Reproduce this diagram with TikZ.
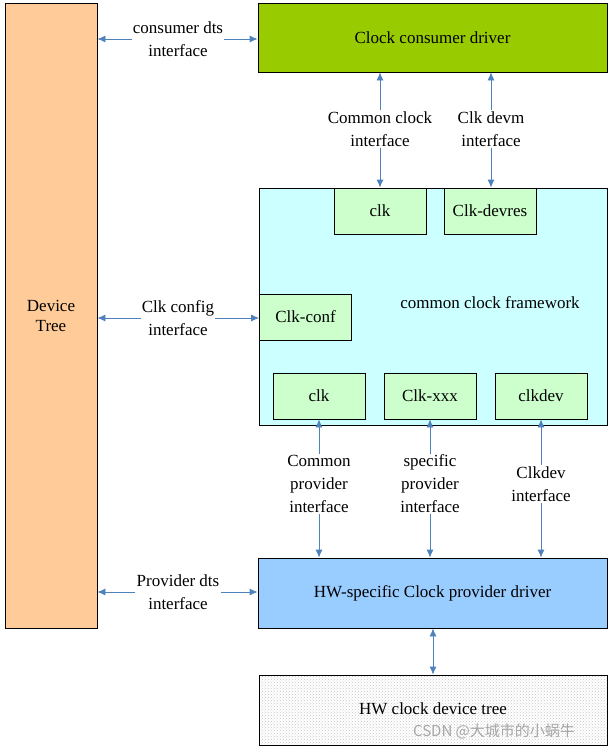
\documentclass[tikz,border=0pt]{standalone}
\usepackage{fontspec}
\setmainfont{Liberation Serif}
\newfontfamily\cjk{Noto Sans CJK SC}
\usetikzlibrary{positioning,arrows.meta,patterns}
\definecolor{treeOrange}{RGB}{255,204,153}
\definecolor{consGreen}{RGB}{153,204,0}
\definecolor{fwCyan}{RGB}{204,255,255}
\definecolor{subGreen}{RGB}{204,255,204}
\definecolor{provBlue}{RGB}{153,204,255}
\definecolor{arrowBlue}{RGB}{79,129,189}
\tikzset{
  box/.style={draw, line width=0.8pt, inner sep=0pt},
  sub/.style={box, fill=subGreen, minimum width=92pt, minimum height=46pt},
  lbl/.style={align=center, inner sep=1pt, font=\fontsize{17}{23}\selectfont},
  link/.style={draw=arrowBlue, line width=0.8pt, -{Latex[length=8pt,width=7pt]}}
}
\begin{document}
\begin{tikzpicture}[x=1pt,y=-1pt,font=\fontsize{17}{20}\selectfont]
        \useasboundingbox (0,0) rectangle (612,750);

        % big blocks
        \node[box, fill=treeOrange, minimum width=92pt, minimum height=625pt, align=center] (tree) at (51,315.5) {Device\\Tree};
        \node[box, fill=consGreen, minimum width=349pt, minimum height=69pt] (cons) at (432.5,37.5) {Clock consumer driver};
        \node[box, fill=fwCyan, minimum width=348pt, minimum height=237pt] (fw) at (433,306.5) {};
        \node (fwtext) at (490,303) {common clock framework};
        \node[box, fill=provBlue, minimum width=349pt, minimum height=70pt] (prov) at (432.5,593) {HW-specific Clock provider driver};
        \node[box, pattern=crosshatch dots, pattern color=gray!45, minimum width=348pt, minimum height=70pt] (hwtree) at (433,710) {};
        \node (hwtext) at (433,709) {HW clock device tree};
        \node[gray!70, font=\cjk\fontsize{15}{18}\selectfont] (mark) at (494,731) {CSDN @大城市的小蜗牛};

        % sub blocks of the framework
        \node[sub] (clkA) at (380,211) {clk};
        \node[sub] (devres) at (490,211) {Clk-devres};
        \node[sub] (conf) at (305.5,317) {Clk-conf};
        \node[sub] (clkB) at (319,396) {clk};
        \node[sub] (xxx) at (430,396) {Clk-xxx};
        \node[sub] (clkdev) at (541,396) {clkdev};

        % interface labels
        \node[lbl] (consIf) at (178,39) {consumer dts\\interface};
        \node[lbl] (confIf) at (178,318) {Clk config\\interface};
        \node[lbl] (provIf) at (178,592) {Provider dts\\interface};
        \node[lbl] (commonIf) at (380,129) {Common clock\\interface};
        \node[lbl] (devmIf) at (491,129) {Clk devm\\interface};
        \node[lbl] (cprovIf) at (319,484) {Common\\provider\\interface};
        \node[lbl] (sprovIf) at (430,484) {specific\\provider\\interface};
        \node[lbl] (clkdevIf) at (541,484) {Clkdev\\interface};

        % connectors
        \draw[link] (consIf.west) -- (consIf.west-|tree.east);
        \draw[link] (consIf.east) -- (consIf.east-|cons.west);
        \draw[link] (confIf.west) -- (confIf.west-|tree.east);
        \draw[link] (confIf.east) -- (confIf.east-|conf.west);
        \draw[link] (provIf.west) -- (provIf.west-|tree.east);
        \draw[link] (provIf.east) -- (provIf.east-|prov.west);

        \draw[link] (commonIf.north) -- (commonIf.north|-cons.south);
        \draw[link] (commonIf.south) -- (clkA.north);
        \draw[link] (devmIf.north) -- (devmIf.north|-cons.south);
        \draw[link] (devmIf.south) -- (devmIf.south|-devres.north);

        \draw[link] (cprovIf.north) -- (clkB.south);
        \draw[link] (cprovIf.south) -- (cprovIf.south|-prov.north);
        \draw[link] (sprovIf.north) -- (xxx.south);
        \draw[link] (sprovIf.south) -- (sprovIf.south|-prov.north);
        \draw[link] (clkdevIf.north) -- (clkdev.south);
        \draw[link] (clkdevIf.south) -- (clkdevIf.south|-prov.north);

        \draw[link, {Latex[length=8pt,width=7pt]}-{Latex[length=8pt,width=7pt]}] (prov.south-|hwtext) -- (hwtree.north-|hwtext);
\end{tikzpicture}
\end{document}
